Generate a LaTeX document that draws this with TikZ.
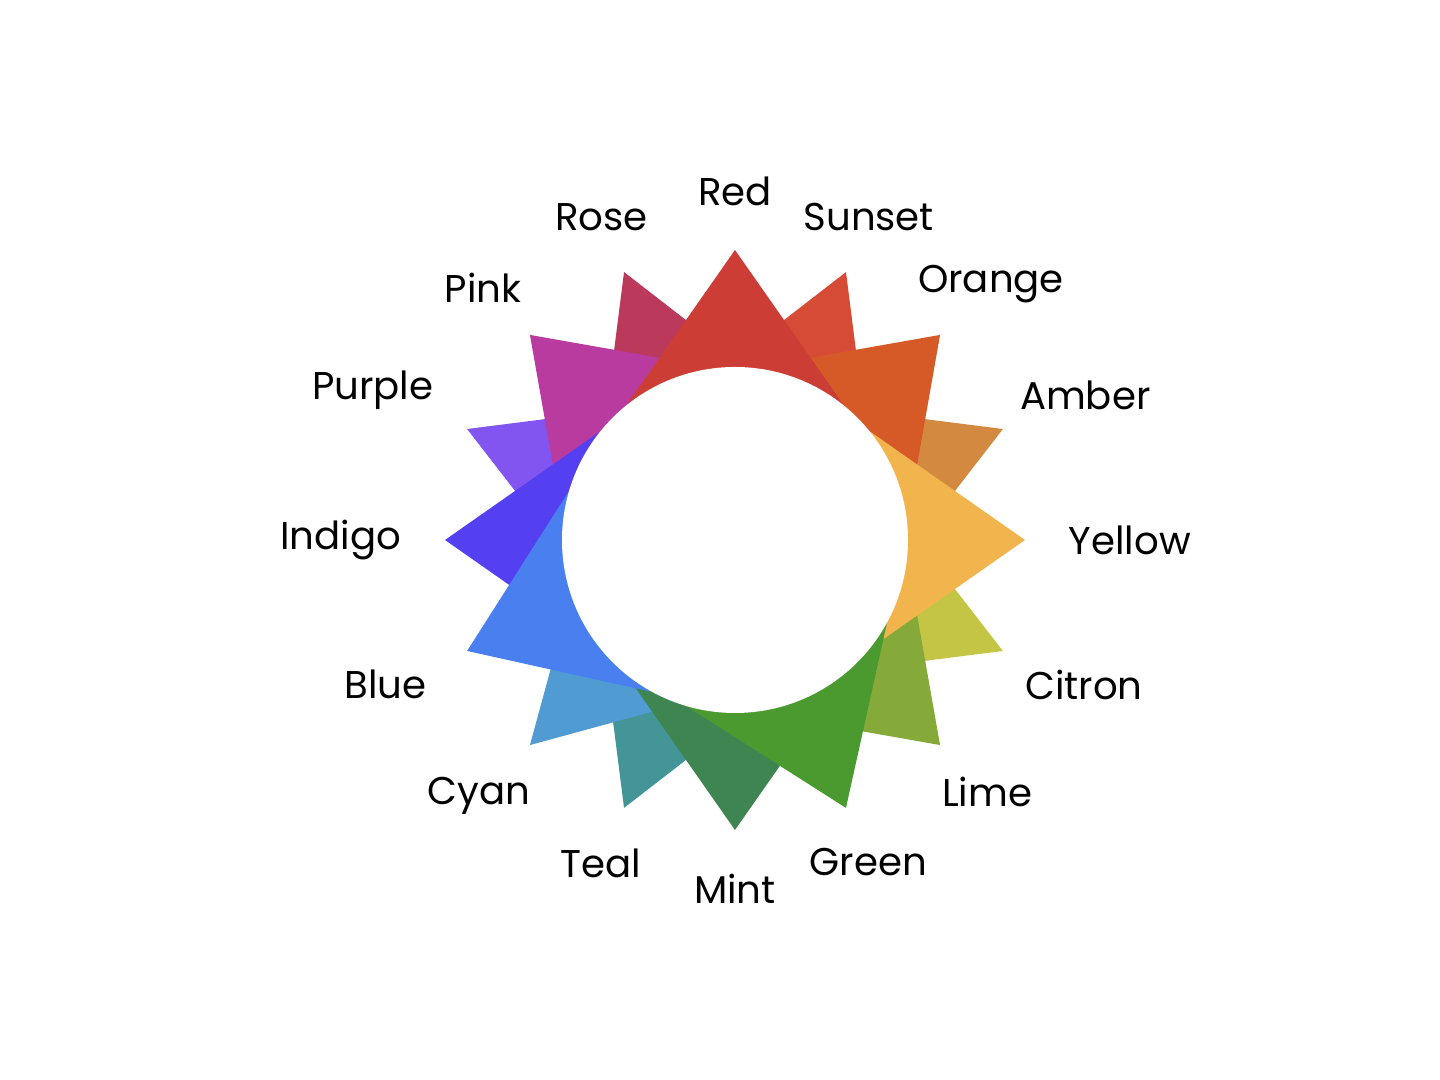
\documentclass[tikz,border=0pt]{standalone}
\usepackage{fontspec}
\setmainfont{Poppins}
\usetikzlibrary{calc}
\begin{document}
\begin{tikzpicture}
\useasboundingbox (0,0) rectangle (28.8,21.6);
\coordinate (c) at (14.7,10.8);
\tikzset{lab/.style={font=\fontsize{22}{26}\selectfont, inner sep=2pt}}
\definecolor{cRed}{HTML}{CC3D35}\definecolor{cSunset}{HTML}{D64B35}
\definecolor{cOrange}{HTML}{D65A28}\definecolor{cAmber}{HTML}{D38A40}
\definecolor{cYellow}{HTML}{F2B54E}\definecolor{cCitron}{HTML}{C4C445}
\definecolor{cLime}{HTML}{86AA3A}\definecolor{cGreen}{HTML}{4A9A30}
\definecolor{cMint}{HTML}{3E8552}\definecolor{cTeal}{HTML}{449597}
\definecolor{cCyan}{HTML}{4F9BD2}\definecolor{cBlue}{HTML}{4A7FF0}
\definecolor{cIndigo}{HTML}{5440F0}\definecolor{cPurple}{HTML}{8355F0}
\definecolor{cPink}{HTML}{B93BA0}\definecolor{cRose}{HTML}{BB3A5C}
% small triangles: angle (clockwise from top), colour
\foreach \a/\col in {22.5/cSunset,67.5/cAmber,112.5/cCitron,202.5/cTeal,225/cCyan,292.5/cPurple,337.5/cRose}{
  \fill[\col] ($(c)+({90-\a}:5.8)$) -- ($(c)+({90-\a}:3.0)+({-\a}:1.6)$) -- ($(c)+({90-\a}:3.0)+({180-\a}:1.6)$) -- cycle;
}
\foreach \a/\col in {135/cLime,45/cOrange,315/cPink,270/cIndigo,180/cMint,0/cRed,90/cYellow,157.5/cGreen,247.5/cBlue}{
  \fill[\col] ($(c)+({90-\a}:5.8)$) -- ($(c)+({90-\a}:1.8)+({-\a}:2.8)$) -- ($(c)+({90-\a}:1.8)+({180-\a}:2.8)$) -- cycle;
}
\fill[white] (c) circle (3.46);
\foreach \a/\t in {0/Red,22.5/Sunset,45/Orange,67.5/Amber,90/Yellow,112.5/Citron,135/Lime,157.5/Green,180/Mint,202.5/Teal,225/Cyan,247.5/Blue,270/Indigo,292.5/Purple,315/Pink,337.5/Rose}{
  \node[lab, anchor={270-\a}] (n\t) at ($(c)+({90-\a}:6.6)$) {\t};
}
\end{tikzpicture}
\end{document}
